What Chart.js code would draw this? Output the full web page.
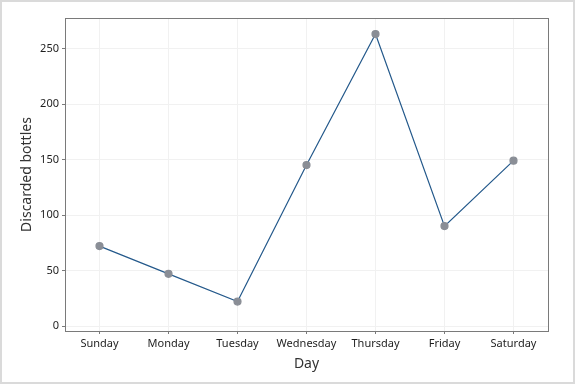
<!DOCTYPE html>
<html>
<head>
<meta charset="utf-8">
<script src="https://cdn.jsdelivr.net/npm/chart.js@4"></script>
<style>
    html, body { margin: 0; padding: 0; background: #fff; }
    #wrap { width: 575px; height: 384px; }
</style>
</head>
<body>
<div id="wrap"><canvas id="chart" width="575" height="384"></canvas></div>
<script>
const days = ['Sunday', 'Monday', 'Tuesday', 'Wednesday', 'Thursday', 'Friday', 'Saturday'];
const discardedBottles = [72, 47, 22, 145, 263, 90, 149];
const yTicks = [0, 50, 100, 150, 200, 250];

const fontFamily = '"Noto Sans", "Open Sans", sans-serif';

// frame around the plot area and the whole picture
const framePlugin = {
    id: 'frame',
    afterDraw(chart) {
        const ctx = chart.ctx;
        const a = chart.chartArea;
        ctx.save();
        ctx.strokeStyle = '#7a7a7a';
        ctx.lineWidth = 1;
        ctx.strokeRect(Math.round(a.left) + 0.5, Math.round(a.top) + 0.5,
            Math.round(a.right - a.left), Math.round(a.bottom - a.top));
        ctx.strokeStyle = '#dadada';
        ctx.lineWidth = 2;
        ctx.strokeRect(1, 1, chart.width - 2, chart.height - 2);
        ctx.restore();
    }
};

new Chart(document.getElementById('chart'), {
    type: 'line',
    data: {
        labels: days,
        datasets: [{
            label: 'Discarded bottles',
            data: discardedBottles,
            borderColor: '#24598b',
            borderWidth: 1.2,
            pointBackgroundColor: '#8a8e96',
            pointBorderColor: '#8a8e96',
            pointRadius: 3.5,
            tension: 0
        }]
    },
    options: {
        responsive: false,
        animation: false,
        layout: {
            padding: { left: 0, right: 27, top: 18, bottom: 0 }
        },
        scales: {
            x: {
                offset: true,
                grid: {
                    offset: false,
                    color: '#f1f1f1',
                    tickColor: '#7a7a7a',
                    tickLength: 3
                },
                border: { display: false },
                ticks: {
                    color: '#1e1e1e',
                    padding: 3,
                    font: { family: fontFamily, size: 11 }
                },
                title: {
                    display: true,
                    text: 'Day',
                    color: '#333',
                    padding: { top: 0, bottom: 12 },
                    font: { family: fontFamily, size: 14 }
                },
                afterFit: scale => { scale.height = 53; }
            },
            y: {
                min: -4.5,
                max: 277.5,
                afterBuildTicks: scale => {
                    scale.ticks = yTicks.map(v => ({ value: v }));
                },
                grid: {
                    color: '#f1f1f1',
                    tickColor: '#7a7a7a',
                    tickLength: 3
                },
                border: { display: false },
                ticks: {
                    color: '#1e1e1e',
                    padding: 3,
                    font: { family: fontFamily, size: 11 }
                },
                title: {
                    display: true,
                    text: 'Discarded bottles',
                    color: '#333',
                    padding: { top: 19, bottom: 0 },
                    font: { family: fontFamily, size: 14 }
                },
                afterFit: scale => { scale.width = 65; }
            }
        },
        plugins: {
            legend: { display: false },
            tooltip: { enabled: false }
        }
    },
    plugins: [framePlugin]
});
</script>
</body>
</html>
